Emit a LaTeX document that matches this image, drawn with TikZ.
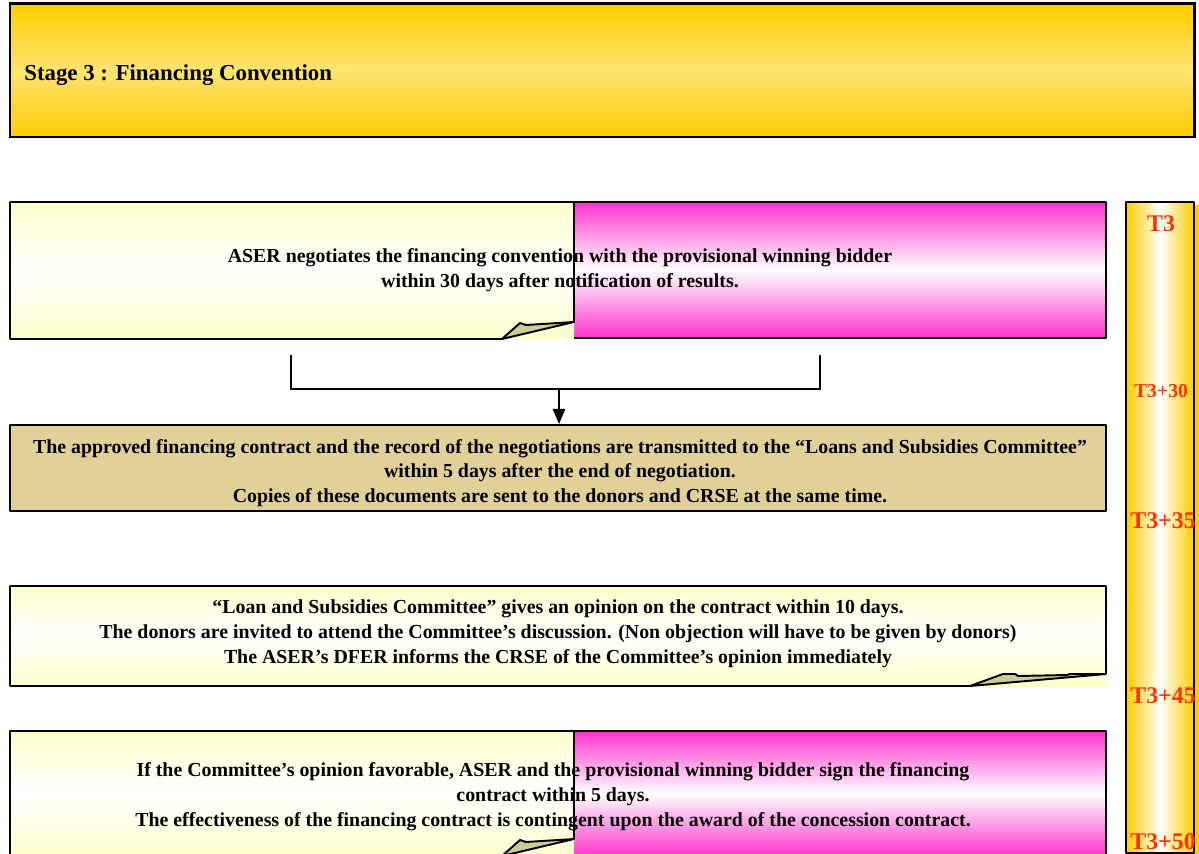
\documentclass[tikz,border=0pt]{standalone}
\usepackage{fontspec}
\setmainfont{Liberation Serif}
\usetikzlibrary{arrows,calc}

\begin{document}
\begin{tikzpicture}[x=0.02cm,y=-0.02cm,
    txt/.style={font=\bfseries\fontsize{11.3}{14.2}\selectfont,align=center,inner sep=0},
    tlabel/.style={font=\bfseries\fontsize{13.6}{14}\selectfont,text=st_red,inner sep=0},
    outline/.style={line width=1.1pt,line join=round}]
% ------------------------------------------------ stage 3 colors
\definecolor{st_gold}{RGB}{255,204,0}     %#FFCC00
\definecolor{st_lgold}{RGB}{255,228,112}  %#FFE470
\definecolor{st_pink}{RGB}{255,51,204}    %#FF33CC
\definecolor{st_cream}{RGB}{255,255,204}  %#FFFFCC
\definecolor{st_tan}{RGB}{225,208,152}    %#E1D098
\definecolor{st_fold}{RGB}{204,204,153}   %#CCCC99
\definecolor{st_red}{RGB}{255,51,0}       %#FF3300

\clip (0,0) rectangle (1199,854);

% ------------------------------------------------ title band
\shade[top color=st_gold,bottom color=st_gold,middle color=st_lgold] (10,4) rectangle (1194,137);
\draw[line width=1.7pt] (10,4) rectangle (1194,137);
\node[txt,anchor=west,font=\bfseries\fontsize{13}{15}\selectfont] (hdr) at (24,75) {Stage 3 : Financing Convention};

% ------------------------------------------------ negotiation
\shade[top color=st_pink,bottom color=st_pink,middle color=white] (574,202) rectangle (1106,338);
\draw[outline] (574,202) -- (1106,202) -- (1106,338) -- (574,338);
\shade[top color=st_cream,bottom color=st_cream,middle color=white] (10,202) rectangle (574,339);
\draw[outline] (502,339) -- (10,339) -- (10,202) -- (574,202) -- (574,322);
\filldraw[outline,fill=st_fold] (502,339) -- (520,323) -- (526,325) -- (574,322) -- cycle;
\node[txt] (neg) at (560,270) {ASER negotiates the financing convention with the provisional winning bidder\\
    within 30 days after notification of results.};

% ------------------------------------------------ transmission
\node[draw,outline,fill=st_tan,minimum width=21.92cm,minimum height=1.72cm] (appr) at (558,468) {};
\node[txt,font=\bfseries\fontsize{11.3}{13.8}\selectfont] (apprtxt) at (560,473)
    {The approved financing contract and the record of the negotiations are transmitted to the ``Loans and Subsidies Committee''\\
    within 5 days after the end of negotiation.\\
    Copies of these documents are sent to the donors and CRSE at the same time.};

\coordinate (brl) at (291,355);
\coordinate (brr) at (820,355);
\coordinate (brm) at (559,389);
\draw[line width=1pt] (brl) |- (brr |- brm) -- (brr);
\draw[line width=1pt,>=triangle 45,->] (brm) -- (brm |- appr.north);

% ------------------------------------------------ committee opinion
\shade[top color=st_cream,bottom color=st_cream,middle color=white] (10,586) rectangle (1106,687);
\draw[outline] (970,686) -- (10,686) -- (10,586) -- (1106,586) -- (1106,674);
\filldraw[outline,fill=st_fold] (970,686) -- (1003,674) -- (1015,674) -- (1018,676) -- (1067,675) -- (1070,674) -- (1106,674) -- cycle;
\node[txt] (opin) at (558,634) {``Loan and Subsidies Committee'' gives an opinion on the contract within 10 days.\\
    The donors are invited to attend the Committee's discussion. (Non objection will have to be given by donors)\\
    The ASER's DFER informs the CRSE of the Committee's opinion immediately};

% ------------------------------------------------ signature
\shade[top color=st_pink,bottom color=st_pink,middle color=white] (574,731) rectangle (1106,856);
\draw[outline] (574,731) -- (1106,731) -- (1106,856);
\shade[top color=st_cream,bottom color=st_cream,middle color=white] (10,731) rectangle (574,856);
\draw[outline] (502,856) -- (10,856) -- (10,731) -- (574,731) -- (574,839);
\filldraw[outline,fill=st_fold] (502,856) -- (520,840) -- (526,842) -- (574,839) -- cycle;
\node[txt] (sign) at (553,797) {If the Committee's opinion favorable, ASER and the provisional winning bidder sign the financing\\
    contract within 5 days.\\
    The effectiveness of the financing contract is contingent upon the award of the concession contract.};

% ------------------------------------------------ time line
\fill[st_gold] (1129,205) rectangle (1199,856);
\shade[left color=st_gold,right color=st_gold,middle color=white] (1126,202) rectangle (1194,853);
\draw[outline] (1126,202) rectangle (1194,853);
\node[tlabel] (t0)  at (1161,224) {T3};
\node[tlabel,font=\bfseries\fontsize{11.2}{12}\selectfont] (t30) at (1161,391) {T3+30};
\node[tlabel] (t35) at (1163,521) {T3+35};
\node[tlabel] (t45) at (1163,696) {T3+45};
\node[tlabel] (t50) at (1163,842) {T3+50};

\end{tikzpicture}
\end{document}
